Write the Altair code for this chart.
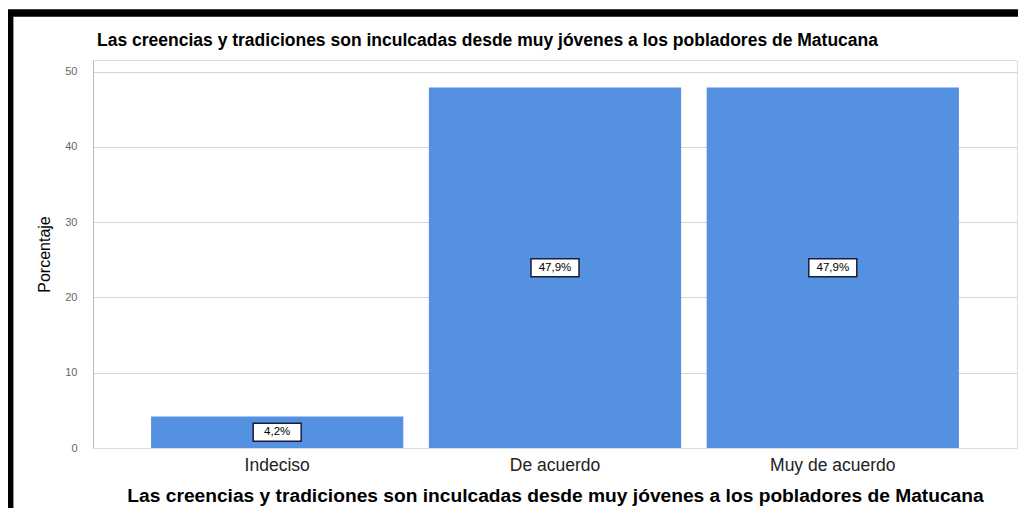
import altair as alt
import pandas as pd

categories = ["Indeciso", "De acuerdo", "Muy de acuerdo"]
percentages = [4.2, 47.9, 47.9]
y_ticks = [0, 10, 20, 30, 40, 50]
title_text = "Las creencias y tradiciones son inculcadas desde muy jóvenes a los pobladores de Matucana"

FONT = "Liberation Sans"
BAR_COLOR = "#5591e1"

df = pd.DataFrame({"cat": categories, "pct": percentages})
df["label"] = [f"{v:.1f}".replace(".", ",") + "%" for v in percentages]

x_enc = alt.X(
    "cat:N",
    sort=categories,
    scale=alt.Scale(paddingInner=0.092, paddingOuter=0.209),
    axis=alt.Axis(
        title=title_text,
        labelAngle=0,
        labelFont=FONT,
        labelFontSize=17.5,
        labelColor="#222222",
        labelPadding=8,
        ticks=False,
        domain=False,
        titleFont=FONT,
        titleFontSize=19.2,
        titleFontWeight="bold",
        titleColor="#000000",
        titlePadding=13,
    ),
)

y_scale = alt.Scale(domain=[0, 51.55], nice=False, zero=True)
y_axis = alt.Axis(
    values=y_ticks,
    title="Porcentaje",
    titleFont=FONT,
    titleFontSize=16,
    titleFontWeight="normal",
    titleColor="#000000",
    titlePadding=12,
    labelFont=FONT,
    labelFontSize=11,
    labelColor="#666666",
    labelPadding=16,
    ticks=False,
    domainColor="#bbbbbb",
    gridColor="#d4d4d4",
    gridOpacity={"condition": {"test": "datum.value === 0", "value": 0}, "value": 1},
)

frame = alt.Chart(pd.DataFrame({"f": [0]})).mark_rect(
    fill="transparent", stroke="black", strokeWidth=7.4
).encode(
    x=alt.value(-83.3), x2=alt.value(1100), y=alt.value(-47), y2=alt.value(700)
)

bars = alt.Chart(df).mark_bar(color=BAR_COLOR).encode(
    x=x_enc,
    y=alt.Y("pct:Q", scale=y_scale, axis=y_axis),
)

box_path = "M-1,-0.375L1,-0.375L1,0.375L-1,0.375Z"
boxes = alt.Chart(df).transform_calculate(mid="datum.pct / 2").mark_point(
    shape=box_path, size=2304, filled=True, fill="white", stroke="#1b1b3a",
    strokeWidth=1.5, opacity=1, fillOpacity=1
).encode(
    x=alt.X("cat:N", sort=categories),
    y=alt.Y("mid:Q", scale=y_scale),
)

texts = alt.Chart(df).transform_calculate(mid="datum.pct / 2").mark_text(
    font=FONT, fontSize=11.5, color="#000000"
).encode(
    x=alt.X("cat:N", sort=categories),
    y=alt.Y("mid:Q", scale=y_scale),
    text="label:N",
)

chart = alt.layer(frame, bars, boxes, texts).properties(
    width=924,
    height=388,
    autosize=alt.AutoSizeParams(type="none"),
    padding={"left": 85, "top": 52, "right": 1, "bottom": 60},
    title=alt.TitleParams(
        text=title_text,
        anchor="start",
        frame="group",
        dx=4,
        font=FONT,
        fontSize=17.5,
        fontWeight="bold",
        color="#000000",
        baseline="alphabetic",
        offset=-54,
    ),
).configure_view(strokeWidth=0).configure(background="white")

chart.save("out.html", embed_options={"renderer": "svg", "actions": False})
